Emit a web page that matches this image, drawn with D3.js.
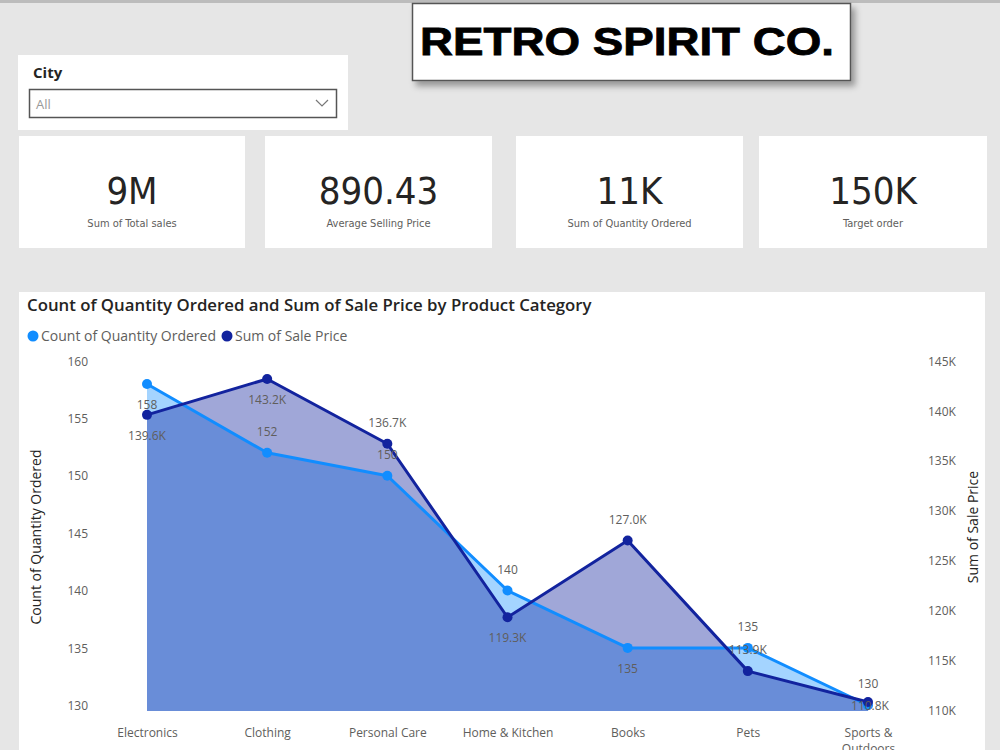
<!DOCTYPE html>
<html>
<head>
<meta charset="utf-8">
<script src="https://cdn.jsdelivr.net/npm/d3@7"></script>
<style>
  html, body { margin: 0; padding: 0; background: #e6e6e6; }
  svg { display: block; }
</style>
</head>
<body>
<div id="container"></div>
<script>
// Chart data
var categories = ["Electronics", "Clothing", "Personal Care", "Home & Kitchen", "Books", "Pets", "Sports & Outdoors"];
var countValues = [158, 152, 150, 140, 135, 135, 130];
var saleValues = [139600, 143200, 136700, 119300, 127000, 113900, 110800];
var leftTicks = [130, 135, 140, 145, 150, 155, 160];
var rightTicks = [110000, 115000, 120000, 125000, 130000, 135000, 140000, 145000];

// KPI cards
var kpiValues = ["9M", "890.43", "11K", "150K"];
var kpiLabels = ["Sum of Total sales", "Average Selling Price", "Sum of Quantity Ordered", "Target order"];

var width = 1000, height = 750;
var lightBlue = "#118DFF", darkBlue = "#12239E";
var chartFont = "'Open Sans', 'Noto Sans', sans-serif";

var svg = d3.select("#container").append("svg")
  .attr("width", width)
  .attr("height", height);

var defs = svg.append("defs");
var shadow = defs.append("filter").attr("id", "shadow")
  .attr("x", "-10%").attr("y", "-20%").attr("width", "130%").attr("height", "160%");
shadow.append("feDropShadow")
  .attr("dx", 4).attr("dy", 5).attr("stdDeviation", 3)
  .attr("flood-color", "#000").attr("flood-opacity", 0.35);

var clip = defs.append("clipPath").attr("id", "pageClip");
clip.append("rect").attr("x", 0).attr("y", 0).attr("width", width).attr("height", height);

svg.append("rect").attr("width", width).attr("height", height).attr("fill", "#e6e6e6");
svg.append("rect").attr("width", width).attr("height", 3).attr("fill", "#bcbcbc");

// Title box
svg.append("rect")
  .attr("x", 412.5).attr("y", 3.5).attr("width", 438).attr("height", 77)
  .attr("fill", "#fff").attr("stroke", "#555").attr("stroke-width", 1.5)
  .attr("filter", "url(#shadow)");
svg.append("text")
  .attr("x", 420).attr("y", 55)
  .attr("textLength", 414).attr("lengthAdjust", "spacingAndGlyphs")
  .style("font-family", "'Liberation Sans', Arial, sans-serif")
  .style("font-weight", "bold").style("font-size", "39px")
  .attr("fill", "#000").attr("stroke", "#000").attr("stroke-width", 0.8)
  .text("RETRO SPIRIT CO.");

// City slicer
svg.append("rect").attr("x", 18).attr("y", 55).attr("width", 330).attr("height", 75).attr("fill", "#fff");
svg.append("text").attr("x", 33).attr("y", 78)
  .style("font-family", chartFont).style("font-weight", 700).style("font-size", "15px")
  .attr("fill", "#252423").text("City");
svg.append("rect").attr("x", 29.5).attr("y", 89.5).attr("width", 307).attr("height", 28)
  .attr("fill", "#fff").attr("stroke", "#555").attr("stroke-width", 1.5);
svg.append("text").attr("x", 36).attr("y", 109)
  .style("font-family", chartFont).style("font-size", "13px")
  .attr("fill", "#999").text("All");
svg.append("path").attr("d", "M316,100 L322,106 L328,100")
  .attr("fill", "none").attr("stroke", "#777").attr("stroke-width", 1.2);

// KPI cards
var cardX = [19, 265, 516, 759];
var cardW = [226, 227, 227, 228];
var cards = svg.selectAll("g.kpi").data(kpiValues).enter().append("g")
  .attr("class", "kpi")
  .attr("transform", function(d, i) { return "translate(" + cardX[i] + ",136)"; });
cards.append("rect")
  .attr("width", function(d, i) { return cardW[i]; })
  .attr("height", 112).attr("fill", "#fff");
cards.append("text")
  .attr("x", function(d, i) { return cardW[i] / 2; })
  .attr("y", 68).attr("text-anchor", "middle")
  .style("font-family", "'DejaVu Sans Condensed', Roboto, sans-serif")
  .style("font-size", "38px").attr("fill", "#252423")
  .text(function(d) { return d; });
cards.append("text")
  .attr("x", function(d, i) { return cardW[i] / 2; })
  .attr("y", 91).attr("text-anchor", "middle")
  .style("font-family", "'DejaVu Sans Condensed', Roboto, sans-serif")
  .style("font-size", "11px").attr("fill", "#605E5C")
  .text(function(d, i) { return kpiLabels[i]; });

// Chart card
var chart = svg.append("g").attr("clip-path", "url(#pageClip)");
chart.append("rect").attr("x", 19).attr("y", 292).attr("width", 966).attr("height", 470).attr("fill", "#fff");

chart.append("text").attr("x", 27).attr("y", 311)
  .style("font-family", chartFont).style("font-size", "16.8px").style("font-weight", 600)
  .attr("fill", "#252423")
  .text("Count of Quantity Ordered and Sum of Sale Price by Product Category");

// Legend
var legendItems = [
  { name: "Count of Quantity Ordered", color: lightBlue, x: 33 },
  { name: "Sum of Sale Price", color: darkBlue, x: 227 }
];
var legend = chart.selectAll("g.legend").data(legendItems).enter().append("g")
  .attr("class", "legend")
  .attr("transform", function(d) { return "translate(" + d.x + ",336)"; });
legend.append("circle").attr("r", 5.5).attr("fill", function(d) { return d.color; });
legend.append("text").attr("x", 8).attr("y", 5)
  .style("font-family", chartFont).style("font-size", "14px")
  .attr("fill", "#605E5C")
  .text(function(d) { return d.name; });

// Scales
var x = d3.scalePoint().domain(categories).range([147, 868]);
var yLeft = d3.scaleLinear().domain([129.5, 160]).range([711, 361]);
var yRight = d3.scaleLinear().domain([109900, 145000]).range([711, 361]);

// Axes (no lines, labels only)
var leftAxis = chart.append("g").attr("transform", "translate(88,0)")
  .call(d3.axisLeft(yLeft).tickValues(leftTicks).tickSize(0).tickPadding(0));
var rightAxis = chart.append("g").attr("transform", "translate(928,0)")
  .call(d3.axisRight(yRight).tickValues(rightTicks).tickSize(0).tickPadding(0)
    .tickFormat(function(d) { return (d / 1000) + "K"; }));
var bottomAxis = chart.append("g").attr("transform", "translate(0,726)")
  .call(d3.axisBottom(x).tickSize(0).tickPadding(0));

[leftAxis, rightAxis, bottomAxis].forEach(function(a) {
  a.select(".domain").remove();
  a.selectAll("text")
    .style("font-family", chartFont).style("font-size", "12px")
    .attr("fill", "#605E5C");
});
leftAxis.selectAll("text").attr("dy", "0.35em");
rightAxis.selectAll("text").attr("dy", "0.35em");
bottomAxis.selectAll("text").attr("dy", "0.9em");

// wrap long category labels
bottomAxis.selectAll("text").each(function(d) {
  var t = d3.select(this);
  if (this.getComputedTextLength() > 100) {
    var words = d.split(" ");
    var first = words.slice(0, 2).join(" ");
    var rest = words.slice(2).join(" ");
    t.text(null);
    t.append("tspan").attr("x", 0).attr("dy", "0.9em").text(first);
    t.append("tspan").attr("x", 0).attr("dy", "1.35em").text(rest);
  }
});

// Axis titles
chart.append("text")
  .attr("transform", "translate(41,537) rotate(-90)")
  .attr("text-anchor", "middle")
  .style("font-family", chartFont).style("font-size", "14px")
  .attr("fill", "#252423").text("Count of Quantity Ordered");
chart.append("text")
  .attr("transform", "translate(978,527) rotate(-90)")
  .attr("text-anchor", "middle")
  .style("font-family", chartFont).style("font-size", "14px")
  .attr("fill", "#252423").text("Sum of Sale Price");

// Areas
var countArea = d3.area()
  .x(function(d, i) { return x(categories[i]); })
  .y0(711)
  .y1(function(d) { return yLeft(d); });
var saleArea = d3.area()
  .x(function(d, i) { return x(categories[i]); })
  .y0(711)
  .y1(function(d) { return yRight(d); });

chart.append("path").datum(countValues)
  .attr("d", countArea).attr("fill", lightBlue).attr("fill-opacity", 0.38);
chart.append("path").datum(saleValues)
  .attr("d", saleArea).attr("fill", darkBlue).attr("fill-opacity", 0.4);

// Lines
var countLine = d3.line()
  .x(function(d, i) { return x(categories[i]); })
  .y(function(d) { return yLeft(d); });
var saleLine = d3.line()
  .x(function(d, i) { return x(categories[i]); })
  .y(function(d) { return yRight(d); });

chart.append("path").datum(countValues)
  .attr("d", countLine).attr("fill", "none")
  .attr("stroke", lightBlue).attr("stroke-width", 3).attr("stroke-linejoin", "round");
chart.selectAll("circle.cnt").data(countValues).enter().append("circle")
  .attr("class", "cnt")
  .attr("cx", function(d, i) { return x(categories[i]); })
  .attr("cy", function(d) { return yLeft(d); })
  .attr("r", 5).attr("fill", lightBlue);

chart.append("path").datum(saleValues)
  .attr("d", saleLine).attr("fill", "none")
  .attr("stroke", darkBlue).attr("stroke-width", 3).attr("stroke-linejoin", "round");
chart.selectAll("circle.sale").data(saleValues).enter().append("circle")
  .attr("class", "sale")
  .attr("cx", function(d, i) { return x(categories[i]); })
  .attr("cy", function(d) { return yRight(d); })
  .attr("r", 5).attr("fill", darkBlue);

// Data labels (placement: -1 above, 1 below, 0 centred)
var countPlace = [1, -1, -1, -1, 1, -1, -1];
var salePlace = [1, 1, -1, 1, -1, -1, 0];

chart.selectAll("text.cntLabel").data(countValues).enter().append("text")
  .attr("class", "cntLabel")
  .attr("x", function(d, i) { return x(categories[i]); })
  .attr("y", function(d, i) { return yLeft(d) + countPlace[i] * 21; })
  .attr("dy", "0.35em").attr("text-anchor", "middle")
  .style("font-family", chartFont).style("font-size", "12px")
  .attr("fill", "#605E5C")
  .text(function(d) { return d; });

chart.selectAll("text.saleLabel").data(saleValues).enter().append("text")
  .attr("class", "saleLabel")
  .attr("x", function(d, i) { return x(categories[i]) + (salePlace[i] === 0 ? 2 : 0); })
  .attr("y", function(d, i) { return yRight(d) + (salePlace[i] === 0 ? 4 : salePlace[i] * 21); })
  .attr("dy", "0.35em").attr("text-anchor", "middle")
  .style("font-family", chartFont).style("font-size", "12px")
  .attr("fill", "#605E5C")
  .text(function(d) { return (d / 1000).toFixed(1) + "K"; });
</script>
</body>
</html>
